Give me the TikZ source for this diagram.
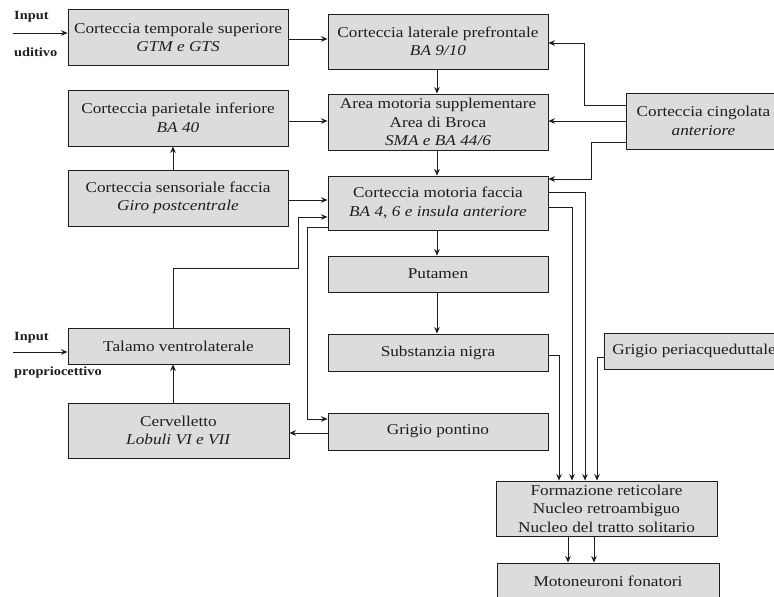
\documentclass[tikz,border=0pt]{standalone}
\usepackage{fontspec}
\setmainfont{Liberation Serif}[FakeStretch=1.15]
\usepackage{xcolor}
\usepackage{tikz}
\usetikzlibrary{arrows.meta,positioning,calc}
\definecolor{ink}{RGB}{30,30,30}
\definecolor{boxgray}{RGB}{220,220,220}
\tikzset{
  area/.style={draw=ink,fill=boxgray,line width=0.9pt,inner sep=0pt,
    align=center,text=ink,font=\fontsize{15}{18.5}\selectfont},
  link/.style={ink,line width=0.8pt,-{Stealth[length=6.5pt,width=5.5pt]}},
  inlabel/.style={anchor=west,inner sep=0pt,text=ink,
    font=\bfseries\fontsize{12.5}{14}\selectfont}
}
\begin{document}
\begin{tikzpicture}[x=1pt,y=-1pt]
  \useasboundingbox (0,0) rectangle (774,597);
  \clip (0,0) rectangle (774,597);
  % left column
  \node[area,minimum width=220pt,minimum height=56pt] (cts) at (178,37.5)
    {Corteccia temporale superiore\\\textit{GTM e GTS}};
  \node[area,minimum width=220pt,minimum height=56pt] (cpi) at (178,118)
    {Corteccia parietale inferiore\\\textit{BA 40}};
  \node[area,minimum width=220pt,minimum height=56pt] (csf) at (178,198)
    {Corteccia sensoriale faccia\\\textit{Giro postcentrale}};
  \node[area,minimum width=221pt,minimum height=36pt] (tal) at (178.5,346)
    {Talamo ventrolaterale};
  \node[area,minimum width=221pt,minimum height=55pt] (cer) at (178.5,430.5)
    {Cervelletto\\\textit{Lobuli VI e VII}};
  % middle column
  \node[area,minimum width=220pt,minimum height=55pt] (clp) at (438,41.5)
    {Corteccia laterale prefrontale\\\textit{BA 9/10}};
  \node[area,minimum width=220pt,minimum height=56pt] (ams) at (438,122)
    {Area motoria supplementare\\Area di Broca\\\textit{SMA e BA 44/6}};
  \node[area,minimum width=220pt,minimum height=54pt] (cmf) at (438,203)
    {Corteccia motoria faccia\\\textit{BA 4, 6 e insula anteriore}};
  \node[area,minimum width=220pt,minimum height=36pt] (put) at (438,274)
    {Putamen};
  \node[area,minimum width=220pt,minimum height=37pt] (sn) at (438,352.5)
    {Substanzia nigra};
  \node[area,minimum width=220pt,minimum height=37pt] (gpo) at (438,431.5)
    {Grigio pontino};
  % right column, cut by the edge
  \node[area,anchor=west,minimum width=154pt,minimum height=56pt] (cca) at (626,121)
    {Corteccia cingolata\\\textit{anteriore}};
  \node[area,anchor=west,minimum height=36pt,inner xsep=8pt] (gpa) at (604,351)
    {Grigio periacqueduttale};
  \node[area,minimum width=221pt,minimum height=55pt] (frm) at (606.5,508.5)
    {Formazione reticolare\\Nucleo retroambiguo\\Nucleo del tratto solitario};
  \node[area,minimum width=222pt,minimum height=37pt] (mot) at (608,581.5)
    {Motoneuroni fonatori};
  % inputs
  \coordinate (inud) at (13,33);
  \coordinate (inpr) at (13,352);
  \node[inlabel] (inudA) at (14,17) {Input};
  \node[inlabel] (inudB) at (14,52) {uditivo};
  \node[inlabel] (inprA) at (14,338) {Input};
  \node[inlabel] (inprB) at (14,372) {propriocettivo};
  \draw[link] (inud) -- (inud -| cts.west);
  \draw[link] (inpr) -- (inpr -| tal.west);
  % connections
  \draw[link] (cts.east |- 0,39) -- (clp.west |- 0,39);
  \draw[link] (cpi.east |- 0,121) -- (ams.west |- 0,121);
  \draw[link] (csf.east |- 0,200) -- (cmf.west |- 0,200);
  \draw[link] (csf.north -| 173,0) -- (cpi.south -| 173,0);
  \draw[link] (clp.south -| 437,0) -- (ams.north -| 437,0);
  \draw[link] (ams.south -| 437,0) -- (cmf.north -| 437,0);
  \draw[link] (cmf.south -| 437,0) -- (put.north -| 437,0);
  \draw[link] (put.south -| 437,0) -- (sn.north -| 437,0);
  \draw[link] (cca.west |- 0,105) -- (584,105) |- (clp.east |- 0,43);
  \draw[link] (cca.west |- 0,121) -- (ams.east |- 0,121);
  \draw[link] (cca.west |- 0,142) -- (591,142) |- (cmf.east |- 0,179);
  \draw[link] (cmf.east |- 0,192) -| (frm.north -| 585,0);
  \draw[link] (cmf.east |- 0,207) -| (frm.north -| 572,0);
  \draw[link] (sn.east |- 0,355) -| (frm.north -| 559,0);
  \draw[link] (gpa.west |- 0,357) -| (frm.north -| 597,0);
  \draw[link] (frm.south -| 568,0) -- (mot.north -| 568,0);
  \draw[link] (frm.south -| 594,0) -- (mot.north -| 594,0);
  \draw[link] (tal.north -| 173,0) -- (173,268) -| (298,217) -- (cmf.west |- 0,217);
  \draw[link] (cmf.west |- 0,227) -| (307,419) -- (gpo.west |- 0,419);
  \draw[link] (gpo.west |- 0,433) -- (cer.east |- 0,433);
  \draw[link] (cer.north -| 173,0) -- (tal.south -| 173,0);
\end{tikzpicture}
\end{document}
